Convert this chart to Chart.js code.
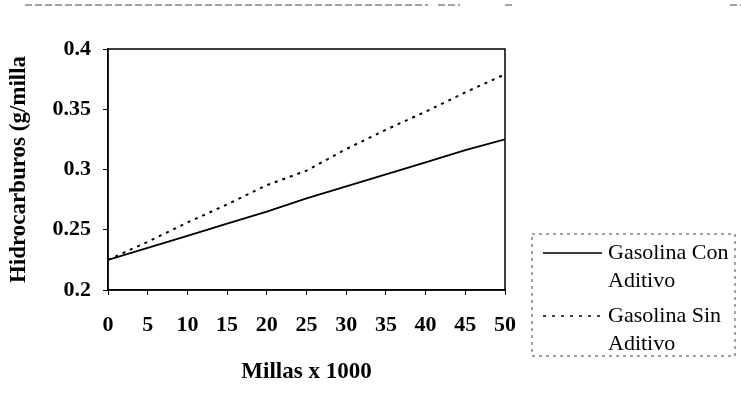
<!DOCTYPE html>
<html>
<head>
<meta charset="utf-8">
<script src="https://cdn.jsdelivr.net/npm/chart.js@4/dist/chart.umd.min.js"></script>
<style>
  html, body { margin: 0; padding: 0; background: #fff; }
  #wrap { width: 741px; height: 414px; }
</style>
</head>
<body>
<div id="wrap"><canvas id="chart" width="741" height="414"></canvas></div>
<script>
// Werte
const millas = [0, 5, 10, 15, 20, 25, 30, 35, 40, 45, 50];
const conAditivo = [0.225, 0.235, 0.245, 0.255, 0.265, 0.276, 0.286, 0.296, 0.306, 0.316, 0.325];
const sinAditivo = [0.225, 0.240, 0.256, 0.271, 0.287, 0.299, 0.317, 0.333, 0.348, 0.364, 0.379];
const serieNombres = ["Gasolina Con Aditivo", "Gasolina Sin Aditivo"];
const yTitulo = "Hidrocarburos (g/milla";
const xTitulo = "Millas x 1000";

const serif = "'Liberation Serif', 'Times New Roman', serif";

// Rahmen um die Zeichenfläche
const rahmen = {
  id: "rahmen",
  afterDatasetsDraw(chart) {
    const a = chart.chartArea;
    const ctx = chart.ctx;
    ctx.save();
    ctx.strokeStyle = "#000";
    ctx.lineWidth = 1.5;
    ctx.strokeRect(a.left, a.top, a.right - a.left, a.bottom - a.top);
    ctx.restore();
  }
};

// Legende rechts unten mit gestricheltem Kasten
const legende = {
  id: "legende",
  afterDraw(chart) {
    const ctx = chart.ctx;
    const a = chart.chartArea;
    const bx = a.right + 27, by = 234, bw = 203, bh = 122;
    ctx.save();
    ctx.strokeStyle = "#444";
    ctx.lineWidth = 1;
    ctx.setLineDash([3, 4]);
    ctx.strokeRect(bx, by, bw, bh);

    ctx.font = "22px " + serif;
    ctx.fillStyle = "#000";
    ctx.textBaseline = "middle";
    const filas = [253, 316];
    chart.data.datasets.forEach(function (ds, i) {
      const y = filas[i];
      ctx.setLineDash(i === 0 ? [] : [3, 6]);
      ctx.lineWidth = 1.5;
      ctx.strokeStyle = "#000";
      ctx.beginPath();
      ctx.moveTo(bx + 11, y);
      ctx.lineTo(bx + 70, y);
      ctx.stroke();
      const cut = ds.label.lastIndexOf(" ");
      ctx.fillText(ds.label.slice(0, cut), bx + 76, y);
      ctx.fillText(ds.label.slice(cut + 1), bx + 76, y + 28);
    });

    // Scan-Rand oben
    ctx.setLineDash([7, 3]);
    ctx.strokeStyle = "#444";
    ctx.lineWidth = 1;
    ctx.beginPath();
    ctx.moveTo(25, 5);
    ctx.lineTo(428, 5);
    ctx.moveTo(438, 5);
    ctx.lineTo(460, 5);
    ctx.moveTo(505, 5);
    ctx.lineTo(515, 5);
    ctx.moveTo(730, 5);
    ctx.lineTo(741, 5);
    ctx.stroke();
    ctx.restore();
  }
};

const ctx = document.querySelector("#chart");

const chart = new Chart(ctx, {
  type: "line",
  data: {
    labels: millas,
    datasets: [
      {
        label: serieNombres[0],
        data: conAditivo,
        borderColor: "#000",
        borderWidth: 1.8,
        pointRadius: 0,
        tension: 0
      },
      {
        label: serieNombres[1],
        data: sinAditivo,
        borderColor: "#000",
        borderWidth: 2,
        borderDash: [3, 5],
        pointRadius: 0,
        tension: 0
      }
    ]
  },
  options: {
    responsive: false,
    animation: false,
    layout: { padding: { left: 0, top: 49, right: 236, bottom: 0 } },
    plugins: {
      legend: { display: false },
      tooltip: { enabled: false }
    },
    scales: {
      x: {
        type: "linear",
        min: 0,
        max: 50,
        afterFit: function (s) { s.height = 124; },
        ticks: {
          stepSize: 5,
          color: "#000",
          padding: 17,
          maxRotation: 0,
          font: { family: serif, size: 22, weight: "bold" }
        },
        grid: { drawOnChartArea: false, tickLength: 5, color: "#000" },
        border: { color: "#000", width: 1.5 },
        title: {
          display: true,
          text: xTitulo,
          color: "#000",
          padding: { top: 0, bottom: 28 },
          font: { family: serif, size: 23, weight: "bold" }
        }
      },
      y: {
        min: 0.2,
        max: 0.4,
        afterFit: function (s) { s.width = 108; },
        ticks: {
          stepSize: 0.05,
          color: "#000",
          padding: 12,
          font: { family: serif, size: 22, weight: "bold" },
          callback: function (v) { return String(Math.round(v * 100) / 100); }
        },
        grid: { drawOnChartArea: false, tickLength: 5, color: "#000" },
        border: { color: "#000", width: 1.5 },
        title: {
          display: true,
          text: yTitulo,
          color: "#000",
          padding: { top: 5, bottom: 0 },
          font: { family: serif, size: 23, weight: "bold" }
        }
      }
    }
  },
  plugins: [rahmen, legende]
});
</script>
</body>
</html>
